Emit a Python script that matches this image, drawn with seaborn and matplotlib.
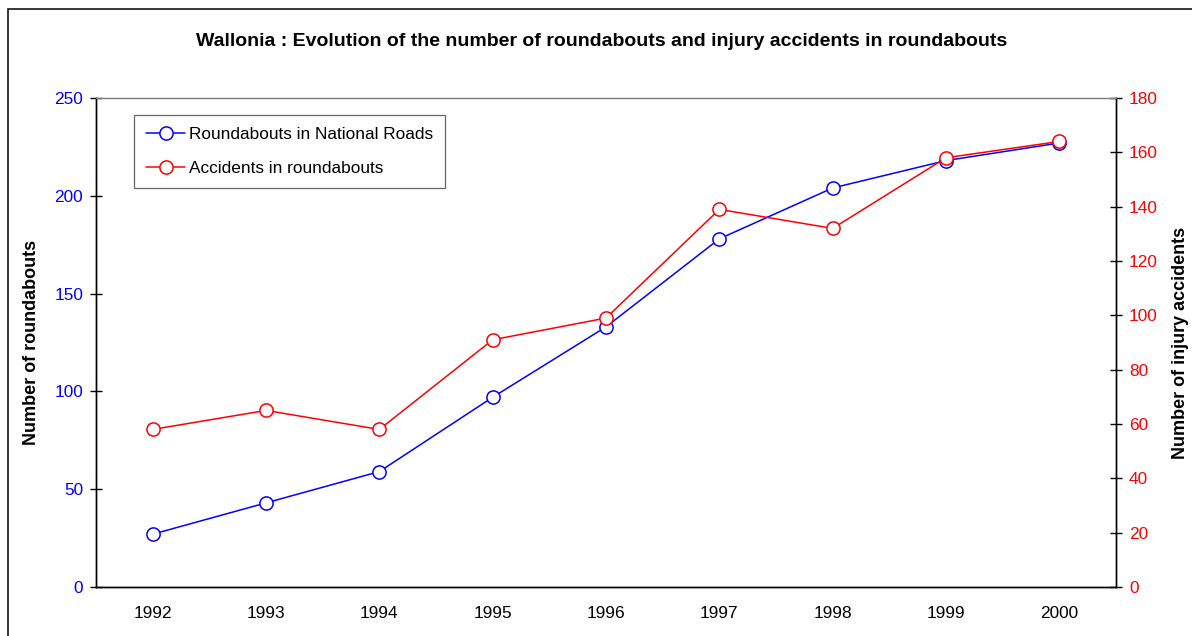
import matplotlib
matplotlib.use("Agg")
import matplotlib.pyplot as plt
import matplotlib.patches as patches
from matplotlib.ticker import FixedLocator, NullFormatter
import seaborn as sns
import pandas as pd

years = [1992, 1993, 1994, 1995, 1996, 1997, 1998, 1999, 2000]
roundabouts = [27, 43, 59, 97, 133, 178, 204, 218, 227]
accidents = [58, 65, 58, 91, 99, 139, 132, 158, 164]
left_ticks = [0, 50, 100, 150, 200, 250]
right_ticks = [0, 20, 40, 60, 80, 100, 120, 140, 160, 180]

sns.set_theme(style="white")
plt.rcParams['font.family'] = ['Liberation Sans', 'DejaVu Sans']
plt.rcParams['text.color'] = 'black'
plt.rcParams['axes.labelcolor'] = 'black'
plt.rcParams['xtick.color'] = 'black'
plt.rcParams['ytick.color'] = 'black'

df = pd.DataFrame({"year": years, "roundabouts": roundabouts, "accidents": accidents})

W, H = 1192, 636
fig = plt.figure(figsize=(W / 100, H / 100), dpi=100)
ax = fig.add_axes([96 / W, 1 - 587 / H, (1116 - 96) / W, (587 - 98) / H])
ax2 = ax.twinx()

BLUE = "#0000FF"
RED = "#FF0000"
FS = 12.4

sns.lineplot(data=df, x="year", y="roundabouts", ax=ax, color=BLUE, lw=1.1,
             marker="o", markersize=9.5, markerfacecolor="white", markeredgecolor=BLUE,
             markeredgewidth=1.1, label="Roundabouts in National Roads")
sns.lineplot(data=df, x="year", y="accidents", ax=ax2, color=RED, lw=1.1,
             marker="o", markersize=9.5, markerfacecolor="white", markeredgecolor=RED,
             markeredgewidth=1.1, label="Accidents in roundabouts")

ax.set_xlim(years[0] - 0.5, years[-1] + 0.5)
ax.set_ylim(0, 250)
ax2.set_ylim(0, 180)
ax.set_yticks(left_ticks)
ax2.set_yticks(right_ticks)

# x axis: boundary ticks (major) and labels at centres (minor)
bounds = [y - 0.5 for y in years] + [years[-1] + 0.5]
ax.xaxis.set_major_locator(FixedLocator(bounds))
ax.xaxis.set_major_formatter(NullFormatter())
ax.xaxis.set_minor_locator(FixedLocator(years))
ax.set_xticklabels([str(y) for y in years], minor=True)
ax.tick_params(axis="x", which="major", direction="inout", length=9.5, width=1.0, color="black")
ax.tick_params(axis="x", which="minor", length=0, pad=14, labelsize=FS, labelcolor="black")

ax.tick_params(axis="y", direction="inout", length=8.6, width=1.0, color="black",
               labelsize=FS, labelcolor=BLUE, pad=5.0, left=True)
ax2.tick_params(axis="y", direction="inout", length=8.6, width=1.0, color="black",
                labelsize=FS, labelcolor=RED, pad=5.0, right=True)

ax.set_xlabel("")
ax.set_ylabel("Number of roundabouts", fontsize=13, fontweight="bold", labelpad=10, color="black")
ax2.set_ylabel("Number of injury accidents", fontsize=13, fontweight="bold", labelpad=10, color="black")

for a in (ax, ax2):
    for s in ("left", "right", "bottom"):
        a.spines[s].set_color("black")
        a.spines[s].set_linewidth(1.0)
    a.spines["top"].set_color("#808080")
    a.spines["top"].set_linewidth(0.9)
    a.grid(False)

# legend combining both series
h1, l1 = ax.get_legend_handles_labels()
h2, l2 = ax2.get_legend_handles_labels()
if ax.get_legend():
    ax.get_legend().remove()
if ax2.get_legend():
    ax2.get_legend().remove()
leg = ax2.legend(h1 + h2, l1 + l2, loc="upper left", bbox_to_anchor=(0.037, 0.965),
                 fontsize=FS, frameon=True, fancybox=False, edgecolor="#404040",
                 handlelength=2.3, handletextpad=0.2, borderpad=0.7, labelspacing=1.1,
                 borderaxespad=0)
leg.get_frame().set_linewidth(0.9)
for t in leg.get_texts():
    t.set_color("black")

fig.text(602 / W, 1 - 41 / H,
         "Wallonia : Evolution of the number of roundabouts and injury accidents in roundabouts",
         ha="center", va="center", fontsize=14, fontweight="bold", color="black")

# outer chart border (clipped at right and bottom)
rect = patches.Rectangle((8 / W, -0.1), 1.2, 1 - 9 / H + 0.1, transform=fig.transFigure,
                         fill=False, edgecolor="black", linewidth=1.1)
fig.patches.append(rect)

fig.savefig("out.png", dpi=100)
